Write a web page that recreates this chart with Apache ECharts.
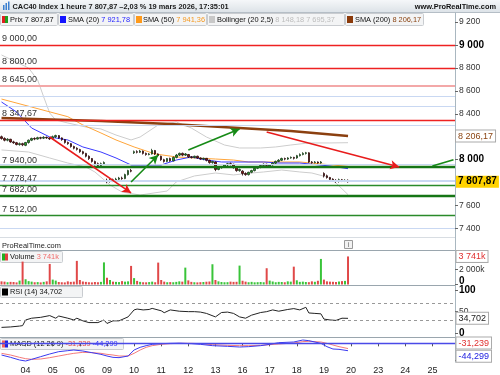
<!DOCTYPE html>
<html><head><meta charset="utf-8">
<script src="https://cdn.jsdelivr.net/npm/echarts@6/dist/echarts.min.js"></script>
<style>html,body{margin:0;padding:0;background:#fff}#c{width:500px;height:375px}</style>
</head><body><div id="c"></div>
<script>
// ---------- DATA ----------
const days = ['03','04','05','06','09','10','11','12','13','16','17','18','19','20','23','24','25'];
const hours = ['09','10','11','12','13','14','15','16','17'];

const open = [8200,8185,8170,8178,8155,8148,8132,8140, 8125,8150,8170,8185,8180,8192,8188,8195,8190, 8185,8200,8210,8190,8175,8150,8140,8115,8100, 8088,8070,8055,8030,8010,7985,7965,7950,7965, 7820,7810,7825,7815,7830,7840,7835,7870,7905, 8060,8070,8065,8075,8055,8045,8050,8080,8050, 8030,8000,7985,8010,7990,8020,8040,8055,8040, 8045,8025,8020,8030,8015,8005,8012,7995,7975, 7980,7915,7930,7940,7955,7965,7960,7930,7905, 7900,7880,7870,7890,7905,7925,7935,7950,7960, 7945,7955,7970,7985,7995,8010,8005,8015,8020, 8015,8035,8045,8055,8060,7980,7975,7980,7972, 7880,7860,7845,7830,7820,7810,7825,7815,7820];
const close = [8185,8170,8178,8155,8148,8132,8140,8130, 8150,8170,8185,8180,8192,8188,8195,8190,8182, 8200,8210,8190,8175,8150,8140,8115,8100,8090, 8070,8055,8030,8010,7985,7965,7950,7965,7975, 7810,7825,7815,7830,7840,7835,7870,7905,7900, 8070,8065,8075,8055,8045,8050,8080,8050,8035, 8000,7985,8010,7990,8020,8040,8055,8040,8050, 8025,8020,8030,8015,8005,8012,7995,7975,7985, 7915,7930,7940,7955,7965,7960,7930,7905,7915, 7880,7870,7890,7905,7925,7935,7950,7960,7950, 7955,7970,7985,7995,8010,8005,8015,8020,8012, 8035,8045,8055,8060,7980,7975,7980,7972,7980, 7860,7845,7830,7820,7810,7825,7815,7820,7807.87];
const low = [8175,8160,8160,8148,8138,8125,8122,8118, 8118,8140,8162,8170,8175,8178,8180,8182,8172, 8175,8190,8182,8165,8140,8130,8105,8090,8080, 8060,8045,8020,7998,7975,7950,7940,7945,7955, 7795,7800,7805,7808,7818,7825,7830,7862,7890, 8050,8055,8058,8045,8035,8038,8045,8040,8025, 7990,7975,7978,7982,7985,8012,8032,8030,8032, 8015,8010,8012,8008,7998,7995,7985,7965,7965, 7900,7908,7922,7935,7945,7950,7922,7895,7895, 7862,7860,7862,7882,7898,7918,7925,7942,7940, 7935,7948,7962,7978,7988,7995,7998,8008,8002, 8008,8028,8038,8045,7972,7965,7968,7965,7965, 7845,7835,7815,7808,7798,7800,7805,7805,7800];
const high = [8210,8195,8188,8182,8165,8155,8150,8148, 8155,8176,8192,8195,8200,8200,8205,8202,8198, 8210,8218,8215,8195,8180,8158,8145,8122,8108, 8095,8078,8060,8038,8015,7992,7975,7975,7985, 7835,7838,7835,7842,7850,7852,7878,7912,7920, 8080,8082,8085,8080,8062,8058,8095,8085,8055, 8035,8008,8015,8018,8028,8050,8062,8062,8058, 8050,8032,8035,8035,8020,8018,8015,8000,7990, 7985,7935,7945,7962,7972,7975,7965,7935,7922, 7908,7890,7895,7912,7932,7942,7958,7968,7965, 7962,7978,7992,8005,8018,8018,8022,8028,8025, 8042,8055,8065,8068,8065,7988,7988,7985,7988, 7890,7870,7850,7838,7830,7835,7832,7830,7828];
const volumeK = [420,380,300,350,330,280,520,3050, 700,450,380,300,320,280,350,420,2740, 650,520,330,300,280,420,350,380,3150, 600,400,350,300,280,330,300,350,2950, 900,600,380,350,320,450,380,420,2480, 850,480,350,300,290,320,380,300,2920, 600,380,300,320,300,350,420,380,2250, 550,350,300,280,310,330,370,400,2700, 600,420,330,300,310,380,350,360,2520, 500,380,300,350,290,310,330,300,2170, 520,400,300,350,330,300,420,380,2380, 560,350,380,330,310,420,360,500,3410, 650,420,380,360,330,400,450,480,3741];

const sma20 = [[0,8503],[5,8416],[10,8276],[16,8198],[22,8172],[27,8111],[33,8067],[38,8015],[43,7954],[46,7954],[53,7954],[58,7997],[63,8024],[68,7997],[73,7980],[77,7980],[87,7980],[92,7971],[99,7971],[109,7945],[115,7921.78]];
const sma50 = [[0,8529],[10,8459],[22,8375],[24,8346],[27,8303],[33,8233],[38,8172],[44,8111],[51,8050],[58,8024],[64,8015],[71,8006],[77,7997],[82,7980],[92,7980],[99,7980],[106,7963],[115,7941.36]];
const sma200 = [[0,8364],[33,8337],[56,8311],[96,8250],[115,8206.17]];
const bbUpper = [[0,8913],[9,8799],[12,8695],[14,8547],[16,8407],[18,8346],[22,8320],[28,8285],[33,8268],[38,8215],[43,8172],[46,8198],[52,8303],[58,8329],[63,8276],[68,8198],[74,8128],[79,8102],[86,8102],[91,8111],[96,8128],[102,8146],[109,8146],[115,8148.18]];
const bbLower = [[0,8085],[9,8067],[16,8015],[22,7971],[28,7936],[31,7893],[36,7780],[40,7718],[46,7692],[55,7727],[58,7806],[64,7858],[71,7884],[77,7867],[83,7884],[87,7893],[93,7910],[99,7893],[103,7884],[108,7849],[111,7797],[115,7695.37]];

const rsi = [[0,14],[3,15],[6,17],[7,18],[8,31],[10,35],[13,37],[16,41],[18,35],[19,40],[22,35],[24,31],[25,35],[27,29],[29,25],[32,25],[34,31],[35,23],[37,29],[39,29],[42,38],[44,54],[45,56],[47,54],[49,55],[50,57.5],[53,52],[54,47.6],[56,54],[59,51],[62,50],[64,50],[66,49],[68,46],[71,38],[73,48],[75,49],[77,46],[79,38],[81,35],[83,42],[86,48],[88,50],[90,54],[92,51],[95,55],[97,57],[99,54],[101,60],[102,47],[104,46],[106,45],[107,33],[109,31],[111,30],[113,35],[115,34.702]];
const macdBlue = [[0,-70],[3,-84],[6,-100],[8,-106],[10,-96],[13,-80],[16,-64],[19,-50],[22,-44],[24,-40],[27,-46],[30,-56],[33,-66],[35,-76],[37,-84],[39,-86],[42,-76],[44,-40],[46,-24],[48,-14],[50,-6],[53,-2],[56,0],[59,1],[63,-2],[66,-6],[70,-14],[75,-18],[79,-22],[82,-20],[86,-14],[89,-6],[92,4],[97,8],[100,20],[102,16],[106,0],[108,-20],[110,-34],[112,-36],[115,-44.299]];
const macdRed = [[0,-60],[3,-70],[6,-84],[8,-92],[10,-96],[13,-94],[16,-86],[19,-76],[22,-66],[24,-60],[27,-54],[30,-56],[33,-60],[35,-66],[37,-70],[39,-76],[42,-76],[44,-60],[46,-40],[48,-24],[50,-14],[53,-6],[56,-2],[59,0],[63,0],[66,-2],[70,-8],[75,-12],[79,-14],[82,-14],[86,-12],[89,-8],[92,-4],[97,2],[100,10],[102,12],[106,8],[108,0],[110,-10],[112,-20],[115,-31.239]];

const redLevels = [9000, 8800, 8347.67];
const pinkLevels = [8645];
const thickGreenLevels = [7940, 7682];
const thinGreenLevels = [7778.47, 7512];
const blueLevels = [8549, 8462, 8296, 7963, 7825, 7400];
const labelledLevels = [9000, 8800, 8645, 8347.67, 7940, 7778.47, 7682, 7512];
const redArrows = [[[16,8198],[43,7710]], [[88,8242],[132,7936]]];
const greenArrows = [[[43,7806],[52,8041]], [[62,8085],[79,8268]]];
const greenTrend = [[143,7945],[150,8000]];
const priceTicks = [7400,7600,8000,8400,8600,8800,9000,9200];
const lastPrice = 7807.87, lastSma200 = 8206.17, lastVolK = 3741, lastRsi = 34.702, lastMacdRed = -31.239, lastMacdBlue = -44.299;

// ---------- HELPERS ----------
const categories = [];
days.forEach((d, di) => hours.forEach((h, hi) => { if (!(di === 0 && hi === 0)) categories.push(d + ' ' + h + 'h'); }));
categories.length = 151;
const LAST = categories.length - 1;
const isDayStart = (i, v) => typeof v === 'string' && v.endsWith('09h');
function fr(v, d) {
  const s = Math.abs(v).toFixed(d).split('.');
  const int = s[0].replace(/\B(?=(\d{3})+(?!\d))/g, ' ');
  return (v < 0 ? '-' : '') + int + (d ? ',' + s[1] : '');
}
function hasFont(f) {
  const c = document.createElement('canvas').getContext('2d');
  const t = 'abcdefghijklmnop 0123456789 ABC';
  c.font = '20px monospace'; const a = c.measureText(t).width;
  c.font = "20px '" + f + "', monospace"; return c.measureText(t).width !== a;
}
const NARROW = hasFont('Liberation Sans Narrow');
const FF = NARROW ? "'Liberation Sans Narrow'" : "'Liberation Sans'";
const FS = NARROW ? 8.8 : 7.4;
const AF = "'Liberation Sans'";

const UP = '#2aa52a', DOWN = '#8a1414';
const candleData = open.map((o, i) => [o, close[i], low[i], high[i]]);
const volData = volumeK.map((v, i) => ({ value: v, itemStyle: { color: close[i] >= open[i] ? '#39c439' : '#e04848' } }));

const levelLines = [];
redLevels.forEach(v => levelLines.push({ yAxis: v, lineStyle: { color: '#e22', width: 1.3, type: 'solid' } }));
pinkLevels.forEach(v => levelLines.push({ yAxis: v, lineStyle: { color: '#f3a8a8', width: 2.2, type: 'solid' } }));
thickGreenLevels.forEach(v => levelLines.push({ yAxis: v, lineStyle: { color: '#157515', width: 2.4, type: 'solid' } }));
thinGreenLevels.forEach(v => levelLines.push({ yAxis: v, lineStyle: { color: '#2a8a2a', width: 1.3, type: 'solid' } }));
blueLevels.forEach(v => levelLines.push({ yAxis: v, lineStyle: { color: '#c9d8f2', width: 1, type: 'solid' } }));
levelLines.forEach(l => {
  l.label = labelledLevels.includes(l.yAxis)
    ? { show: true, position: 'insideStartTop', distance: 2, formatter: fr(l.yAxis, 2), fontSize: 9, fontFamily: AF, color: '#333' }
    : { show: false };
});
levelLines.push({ yAxis: lastPrice, lineStyle: { color: '#c9d8f2', width: 1, type: 'solid' },
  label: { show: true, position: 'end', distance: 1, formatter: fr(lastPrice, 2), fontSize: 10, fontWeight: 'bold', fontFamily: AF, color: '#000', backgroundColor: '#ffd200', padding: [1, 2] } });
levelLines.push({ yAxis: lastSma200, lineStyle: { opacity: 0 },
  label: { show: true, position: 'end', distance: 1, opacity: 1, formatter: fr(lastSma200, 2), fontSize: 9, fontFamily: AF, color: '#8b4513', backgroundColor: '#fff', borderColor: '#aaa', borderWidth: 1, padding: [1, 2] } });

const arrowLines = [];
redArrows.forEach(a => arrowLines.push([{ coord: a[0], lineStyle: { color: '#e81c1c', width: 1.6, type: 'solid' } }, { coord: a[1] }]));
greenArrows.forEach(a => arrowLines.push([{ coord: a[0], lineStyle: { color: '#168a16', width: 1.6, type: 'solid' } }, { coord: a[1] }]));
arrowLines.push([{ coord: greenTrend[0], symbol: 'none', lineStyle: { color: '#168a16', width: 1.6, type: 'solid' } }, { coord: greenTrend[1], symbol: 'none' }]);

// value badge at the right axis: an invisible markLine across the panel with its label at the end
function badge(v, text, color, extra) {
  return [{ coord: [0, v], lineStyle: { color: 'rgba(0,0,0,0)', width: 1, opacity: 1 },
    label: Object.assign({ show: true, position: 'end', distance: 3, opacity: 1, formatter: text, fontSize: 9, fontFamily: AF, color: color, backgroundColor: '#fff', borderColor: '#aaa', borderWidth: 1, padding: [1, 2] }, extra || {}) },
    { coord: [LAST, v] }];
}

const G = [
  { left: 0, width: 455, top: 13, height: 224 },
  { left: 0, width: 455, top: 250, height: 34.5 },
  { left: 0, width: 455, top: 285, height: 52 },
  { left: 0, width: 455, top: 337, height: 25 }
];
const hiddenX = i => ({ type: 'category', gridIndex: i, data: categories, boundaryGap: true, axisLine: { show: false }, axisTick: { show: false }, axisLabel: { show: false }, splitLine: { show: false } });
const xAxes = [hiddenX(0), hiddenX(1), hiddenX(2), Object.assign(hiddenX(3), {
  axisLine: { show: true, lineStyle: { color: '#9aa6ae' } },
  axisTick: { show: true, interval: isDayStart, alignWithLabel: true, length: 3, lineStyle: { color: '#555' } },
  axisLabel: { show: true, interval: isDayStart, formatter: v => v.slice(0, 2), fontSize: 9, fontFamily: AF, color: '#222', margin: 4 }
})];
const richAxis = { b: { fontSize: 10, fontWeight: 'bold', fontFamily: AF, color: '#000' },
  z: { fontSize: 10, fontWeight: 'bold', fontFamily: AF, color: '#000', lineHeight: 17, verticalAlign: 'top' } };
const yBase = (i, min, max, ticks, fmt, extra) => ({
  type: 'value', gridIndex: i, position: 'right', min: min, max: max,
  axisLine: { show: true, lineStyle: { color: '#a9b7c0' } },
  axisTick: { show: true, customValues: ticks, length: 3, lineStyle: { color: '#666' } },
  axisLabel: Object.assign({ customValues: ticks, formatter: fmt, margin: 4, fontSize: 8.5, fontFamily: AF, color: '#333', rich: richAxis }, extra || {}),
  splitLine: { show: false }
});
const yAxes = [
  yBase(0, 7326, 9279, priceTicks, v => v % 1000 === 0 ? '{b|' + fr(v, 0) + '}' : fr(v, 0)),
  yBase(1, 0, 4600, [0, 2000], v => v === 0 ? '{z|0}' : fr(v, 0) + 'k'),
  yBase(2, -8, 111, [0, 50, 100], v => v === 50 ? '50' : '{b|' + v + '}'),
  yBase(3, -112, 38, [-100], v => fr(v, 0))
];

const txt = (x, y, text, style) => ({ type: 'text', x: x, y: y, style: Object.assign({ text: text, fontFamily: FF, fontSize: FS, fill: '#111', verticalAlign: 'middle' }, style || {}) });
const box = (x, y, w, h) => ({ type: 'rect', shape: { x: x, y: y, width: w, height: h, r: 1 }, style: { fill: '#f3f4f5', stroke: '#c9ccd0', lineWidth: 1 } });
const sq = (x, y, c, w) => ({ type: 'rect', shape: { x: x, y: y, width: w || 6, height: 7 }, style: { fill: c } });
const hline = (y, c, x2) => ({ type: 'line', shape: { x1: 0, y1: y, x2: x2 || 455, y2: y }, style: { stroke: c, lineWidth: 1 } });
const rich = { bl: { fill: '#2525ff', fontFamily: FF, fontSize: FS }, or: { fill: '#f59a22', fontFamily: FF, fontSize: FS }, gr: { fill: '#bdbdbd', fontFamily: FF, fontSize: FS }, br: { fill: '#8b4513', fontFamily: FF, fontSize: FS }, rd: { fill: '#e24444', fontFamily: FF, fontSize: FS }, pk: { fill: '#f06a6a', fontFamily: FF, fontSize: FS } };

const graphics = [
  { type: 'rect', shape: { x: 0, y: 0, width: 500, height: 12 }, style: { fill: new echarts.graphic.LinearGradient(0, 0, 0, 1, [{ offset: 0, color: '#f5f7f9' }, { offset: 1, color: '#dde3e8' }]) } },
  hline(12.5, '#b5bec6', 500),
  { type: 'rect', shape: { x: 3, y: 5, width: 1.5, height: 5 }, style: { fill: '#3a7fd0' } },
  { type: 'rect', shape: { x: 5.5, y: 3, width: 1.5, height: 7 }, style: { fill: '#3a7fd0' } },
  { type: 'rect', shape: { x: 8, y: 1.5, width: 1.5, height: 8.5 }, style: { fill: '#3a7fd0' } },
  txt(12.5, 6.5, 'CAC40 Index 1 heure 7 807,87 \u20132,03 % 19 mars 2026, 17:35:01', { fontWeight: 'bold', fill: '#1a1a1a' }),
  txt(496, 6.5, 'www.ProRealTime.com', { align: 'right', fontWeight: 'bold', fill: '#111' }),
  box(0.5, 13.5, 57, 12), { type: 'rect', shape: { x: 2, y: 16, width: 3, height: 7 }, style: { fill: '#e02020' } }, { type: 'rect', shape: { x: 5, y: 16, width: 3, height: 7 }, style: { fill: '#20a020' } },
  txt(10, 19.5, 'Prix 7 807,87'),
  box(58.5, 13.5, 75, 12), sq(60, 16, '#1414ff'), txt(68, 19.5, 'SMA (20) {bl|7 921,78}', { rich: rich }),
  box(134.5, 13.5, 72, 12), sq(136, 16, '#ff9a1a'), txt(143, 19.5, 'SMA (50) {or|7 941,36}', { rich: rich }),
  box(207.5, 13.5, 137, 12), sq(209, 16, '#c8c8c8'), txt(217, 19.5, 'Bollinger (20 2,5) {gr|8 148,18 7 695,37}', { rich: rich }),
  box(345.5, 13.5, 78, 12), sq(347, 16, '#8b3a0a'), txt(355, 19.5, 'SMA (200) {br|8 206,17}', { rich: rich }),
  hline(237.5, '#d8dde2'),
  txt(2, 246, 'ProRealTime.com', { fill: '#222' }),
  { type: 'rect', shape: { x: 344.5, y: 240.5, width: 8, height: 8 }, style: { fill: '#f2f2f2', stroke: '#999', lineWidth: 1 } },
  txt(348.5, 244.8, 'i', { align: 'center', fontSize: 7, fill: '#666' }),
  hline(250.5, '#9aa6ae'), hline(285.5, '#9aa6ae'), hline(337.5, '#9aa6ae'),
  { type: 'line', shape: { x1: 455.5, y1: 13, x2: 455.5, y2: 362 }, style: { stroke: '#a9b7c0', lineWidth: 1 } },
  box(0.5, 251.5, 62, 11), { type: 'rect', shape: { x: 2, y: 253.5, width: 3, height: 7 }, style: { fill: '#20b020' } }, { type: 'rect', shape: { x: 5, y: 253.5, width: 3, height: 7 }, style: { fill: '#e04040' } },
  txt(10, 257, 'Volume {pk|3 741k}', { rich: rich }),
  box(0.5, 286.5, 82, 11), sq(2, 288.5, '#000'), txt(10, 292, 'RSI (14) 34,702'),
  box(0.5, 338.5, 123, 11), { type: 'rect', shape: { x: 2, y: 340.5, width: 3, height: 7 }, style: { fill: '#f06060' } }, { type: 'rect', shape: { x: 5, y: 340.5, width: 3, height: 7 }, style: { fill: '#2020e0' } },
  txt(10, 344, 'MACD (12 26 9) {rd|-31,239} {bl|-44,299}', { rich: rich })
];

const lineS = (name, data, color, width) => ({ type: 'line', name: name, xAxisIndex: 0, yAxisIndex: 0, data: data, symbol: 'none', smooth: false, clip: false, lineStyle: { color: color, width: width }, silent: true, z: 3 });

const option = {
  animation: false,
  grid: G,
  xAxis: xAxes,
  yAxis: yAxes,
  graphic: graphics,
  series: [
    { type: 'candlestick', xAxisIndex: 0, yAxisIndex: 0, data: candleData, barWidth: 2, clip: false,
      itemStyle: { color: UP, color0: DOWN, borderColor: '#1a3a1a', borderColor0: '#2a0a0a', borderWidth: 0.8 }, z: 4,
      markLine: { silent: true, symbol: 'none', animation: false, data: levelLines } },
    lineS('bbU', bbUpper, '#cdcdcd', 1), lineS('bbL', bbLower, '#cdcdcd', 1),
    lineS('sma50', sma50, '#ffa53a', 1), lineS('sma20', sma20, '#3a3aff', 1),
    Object.assign(lineS('sma200', sma200, '#8b4010', 2.6), {
      markLine: { silent: true, symbol: ['none', 'arrow'], symbolSize: [7, 9], animation: false, data: arrowLines, label: { show: false } } }),
    { type: 'bar', xAxisIndex: 1, yAxisIndex: 1, data: volData, barWidth: 2, clip: false,
      markLine: { silent: true, symbol: 'none', animation: false, data: [badge(lastVolK, fr(lastVolK, 0) + 'k', '#e03030')] } },
    { type: 'line', xAxisIndex: 2, yAxisIndex: 2, data: rsi, symbol: 'none', clip: false, lineStyle: { color: '#222', width: 1 },
      markLine: { silent: true, symbol: 'none', animation: false, data: [
        { yAxis: 70, lineStyle: { color: '#999', type: [3, 3], width: 1 }, label: { show: false } },
        { yAxis: 30, lineStyle: { color: '#999', type: [3, 3], width: 1 }, label: { show: false } },
        badge(lastRsi, fr(lastRsi, 3), '#222')] } },
    { type: 'line', xAxisIndex: 3, yAxisIndex: 3, data: macdRed, symbol: 'none', clip: false, lineStyle: { color: '#f47a7a', width: 1 },
      markLine: { silent: true, symbol: 'none', animation: false, data: [
        { yAxis: 0, lineStyle: { color: '#4a4ae8', width: 1.4, type: 'solid' }, label: { show: false } },
        badge(lastMacdRed, fr(lastMacdRed, 3), '#e03030', { verticalAlign: 'bottom' })] } },
    { type: 'line', xAxisIndex: 3, yAxisIndex: 3, data: macdBlue, symbol: 'none', clip: false, lineStyle: { color: '#3a3af0', width: 1 },
      markLine: { silent: true, symbol: 'none', animation: false, data: [badge(lastMacdBlue, fr(lastMacdBlue, 3), '#2020e0', { verticalAlign: 'top' })] } }
  ]
};
const chart = echarts.init(document.getElementById('c'), null, { renderer: 'canvas', width: 500, height: 375 });
chart.setOption(option);
</script></body></html>
